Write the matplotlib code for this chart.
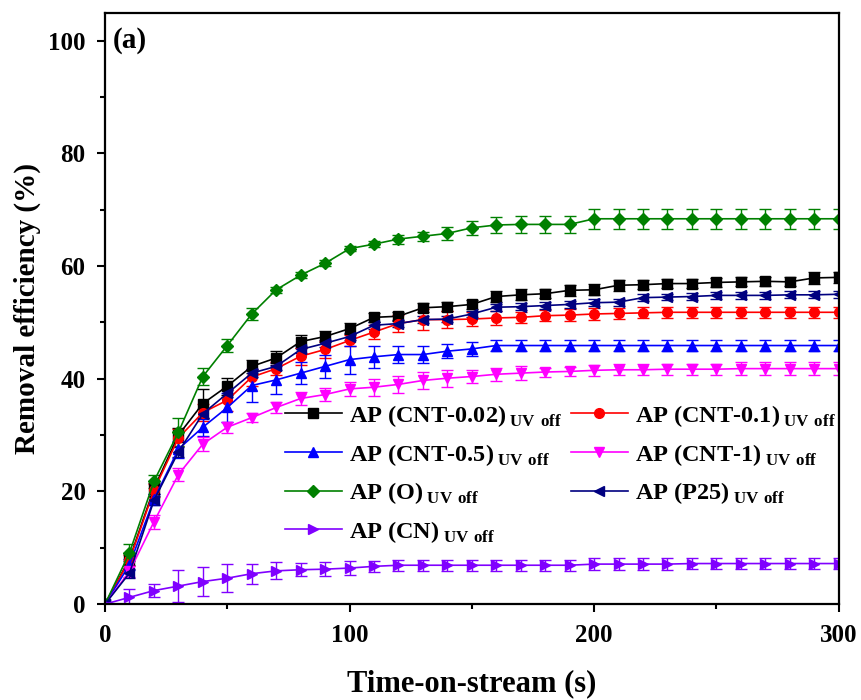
import matplotlib
matplotlib.use("Agg")
import matplotlib.pyplot as plt
from matplotlib.ticker import MultipleLocator

plt.rcParams['font.family'] = ['Liberation Serif', 'DejaVu Serif']
plt.rcParams['font.weight'] = 'bold'
plt.rcParams['mathtext.fontset'] = 'custom'
plt.rcParams['mathtext.rm'] = 'Liberation Serif:bold'
plt.rcParams['mathtext.bf'] = 'Liberation Serif:bold'

t = list(range(0, 301, 10))

cnt002 = [0, 8.0, 20.5, 30.0, 35.6, 38.7, 42.2, 43.7, 46.6, 47.5, 48.9, 50.9, 51.1, 52.6, 52.8, 53.2,
          54.6, 54.9, 55.1, 55.7, 55.8, 56.6, 56.7, 56.9, 56.9, 57.1, 57.2, 57.3, 57.2, 57.9, 58.0]
cnt01 = [0, 7.8, 20.2, 29.5, 34.0, 36.2, 40.3, 41.8, 44.0, 45.2, 46.8, 48.3, 49.8, 50.5, 50.5, 50.6,
         50.8, 50.9, 51.2, 51.3, 51.5, 51.6, 51.7, 51.8, 51.8, 51.8, 51.8, 51.8, 51.8, 51.8, 51.8]
cnt05 = [0, 7.0, 18.6, 27.5, 31.4, 34.9, 38.8, 39.8, 41.0, 42.2, 43.4, 43.9, 44.3, 44.3, 44.9, 45.3,
         45.9, 45.9, 45.9, 45.9, 45.9, 45.9, 45.9, 45.9, 45.9, 45.9, 45.9, 45.9, 45.9, 45.9, 45.9]
cnt1 = [0, 5.8, 14.6, 23.0, 28.4, 31.4, 33.1, 34.9, 36.5, 37.2, 38.2, 38.5, 39.0, 39.7, 40.1, 40.4,
        40.8, 41.0, 41.2, 41.3, 41.5, 41.6, 41.6, 41.7, 41.7, 41.7, 41.8, 41.8, 41.8, 41.8, 41.8]
ap_o = [0, 9.1, 21.8, 30.5, 40.4, 45.9, 51.5, 55.8, 58.4, 60.5, 63.1, 63.9, 64.8, 65.3, 65.8, 66.8,
        67.3, 67.4, 67.4, 67.4, 68.4, 68.4, 68.4, 68.4, 68.4, 68.4, 68.4, 68.4, 68.4, 68.4, 68.4]
p25 = [0, 5.5, 18.4, 27.0, 33.8, 37.4, 41.0, 42.2, 45.2, 46.3, 47.5, 49.5, 49.8, 50.5, 50.6, 51.5,
       52.7, 52.8, 53.0, 53.2, 53.5, 53.6, 54.4, 54.5, 54.6, 54.8, 54.8, 54.8, 54.9, 54.9, 55.0]
cn = [0, 1.2, 2.4, 3.2, 4.0, 4.6, 5.4, 5.9, 6.1, 6.2, 6.4, 6.7, 6.9, 6.9, 6.9, 6.9,
      6.9, 6.9, 6.9, 6.9, 7.1, 7.1, 7.1, 7.1, 7.2, 7.2, 7.2, 7.2, 7.2, 7.2, 7.2]

err_cnt002 = [0, 1.0, 1.0, 1.2, 2.5, 1.5, 1.2, 1.2, 1.2, 1.0, 1.0, 0.8, 0.8, 0.8, 0.8, 0.8,
              1.0, 1.0, 0.8, 1.0, 1.0, 1.0, 0.8, 0.8, 0.8, 0.8, 0.8, 0.8, 0.8, 1.0, 1.0]
err_cnt01 = [0, 1.0, 1.2, 1.5, 1.5, 2.0, 1.5, 1.2, 1.5, 1.5, 1.0, 1.2, 1.5, 1.8, 1.5, 1.2,
             1.2, 1.0, 1.0, 1.0, 1.0, 1.0, 1.0, 1.0, 1.0, 1.0, 1.0, 1.0, 1.0, 1.0, 1.0]
err_cnt05 = [0, 1.0, 1.0, 1.5, 1.5, 2.5, 3.0, 2.5, 2.0, 2.0, 2.5, 2.0, 1.5, 1.5, 1.2, 1.2,
             1.0, 1.0, 1.0, 1.0, 1.0, 1.0, 1.0, 1.0, 1.0, 1.0, 1.0, 1.0, 1.0, 1.0, 1.0]
err_cnt1 = [0, 1.0, 1.2, 1.2, 1.2, 1.0, 0.8, 1.0, 1.2, 1.2, 1.2, 1.5, 1.5, 1.5, 1.5, 1.2,
            1.2, 1.2, 0.8, 0.8, 1.0, 1.0, 1.0, 1.0, 1.0, 1.0, 1.2, 1.2, 1.2, 1.2, 1.2]
err_o = [0, 1.5, 1.2, 2.5, 1.5, 1.2, 1.0, 0.5, 0.5, 0.5, 0.5, 0.5, 0.8, 0.8, 1.2, 1.2,
         1.5, 1.5, 1.5, 1.5, 1.8, 1.8, 1.8, 1.8, 1.8, 1.8, 1.8, 1.8, 1.8, 1.8, 1.8]
err_p25 = [0, 0.8, 0.8, 0.8, 0.8, 0.6, 0.6, 0.6, 0.6, 0.6, 0.6, 0.6, 0.6, 0.6, 0.6, 0.6,
           0.6, 0.6, 0.6, 0.6, 0.6, 0.6, 0.6, 0.6, 0.6, 0.6, 0.6, 0.6, 0.6, 0.6, 0.6]
err_cn = [0, 1.5, 1.2, 2.8, 2.5, 2.5, 1.8, 1.5, 1.2, 1.2, 1.2, 1.0, 1.0, 1.0, 1.0, 1.0,
          1.0, 1.0, 1.0, 1.0, 1.0, 1.0, 1.0, 1.0, 1.0, 1.0, 1.0, 1.0, 1.0, 1.0, 1.0]

sub = r"$\,_{\mathrm{UV\ off}}$"
series = [
    ("AP (CNT-0.02)", cnt002, err_cnt002, 'black', 's'),
    ("AP (CNT-0.1)", cnt01, err_cnt01, '#FF0000', 'o'),
    ("AP (CNT-0.5)", cnt05, err_cnt05, '#0000FF', '^'),
    ("AP (CNT-1)", cnt1, err_cnt1, '#FF00FF', 'v'),
    ("AP (O)", ap_o, err_o, '#008000', 'D'),
    ("AP (P25)", p25, err_p25, '#000080', '<'),
    ("AP (CN)", cn, err_cn, '#8000FF', '>'),
]

fig = plt.figure(figsize=(8.61, 7.0), dpi=100)
ax = fig.add_axes([0.122, 0.137, 0.852, 0.845])

handles = {}
for name, y, e, c, m in series:
    ms = 6.5 if m == 'D' else 7
    h = ax.errorbar(t, y, yerr=e, color=c, marker=m, markersize=ms, lw=1.2,
                    elinewidth=1.0, capsize=4, capthick=1.0)
    handles[name] = h[0]

# legend fills column-wise, so reorder to get the row layout of the original
order = ["AP (CNT-0.02)", "AP (CNT-0.5)", "AP (O)", "AP (CN)",
         "AP (CNT-0.1)", "AP (CNT-1)", "AP (P25)"]
hs = [handles[k] for k in order]
leg = ax.legend(hs, [k + sub for k in order], ncol=2, frameon=False,
                loc='upper left', bbox_to_anchor=(0.245, 0.34),
                fontsize=17.5, handlelength=2.35, handletextpad=0.3,
                columnspacing=0.35, labelspacing=0.52, borderpad=0,
                borderaxespad=0)

ax.set_xlim(0, 300)
ax.set_ylim(0, 105)
ax.xaxis.set_major_locator(MultipleLocator(100))
ax.xaxis.set_minor_locator(MultipleLocator(50))
ax.yaxis.set_major_locator(MultipleLocator(20))
ax.yaxis.set_minor_locator(MultipleLocator(10))
ax.tick_params(which='major', direction='out', length=6, width=1.5, labelsize=18, pad=8)
ax.tick_params(which='minor', direction='out', length=3.5, width=1.5)
for s in ax.spines.values():
    s.set_linewidth(1.6)
for lab in ax.get_xticklabels() + ax.get_yticklabels():
    lab.set_fontweight('bold')

ax.set_xlabel("Time-on-stream (s)", fontsize=22, fontweight='bold', labelpad=16)
ax.set_ylabel("Removal efficiency (%)", fontsize=21, fontweight='bold', labelpad=5)
ax.text(0.01, 0.975, "(a)", transform=ax.transAxes, fontsize=21,
        fontweight='bold', va='top', ha='left')

fig.savefig("out.png", dpi=100)
